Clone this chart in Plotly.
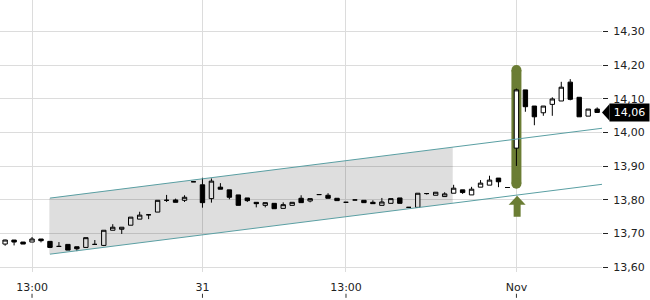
import plotly.graph_objects as go
import numpy as np

# ---- data ----
idx = list(range(67))
open_ = [13.669, 13.681, 13.675, 13.675, 13.684, 13.677, 13.662, 13.668, 13.661, 13.659,
         13.668, 13.665, 13.710, 13.713, 13.725, 13.743, 13.756, 13.764, 13.799, 13.800,
         13.799, 13.854, 13.845, 13.804, 13.838, 13.830, 13.815, 13.806, 13.793, 13.784,
         13.790, 13.775, 13.784, 13.805, 13.797, 13.816, 13.814, 13.805, 13.793, 13.800,
         13.799, 13.793, 13.784, 13.790, 13.806, 13.778, 13.778, 13.819, 13.814, 13.810,
         13.820, 13.830, 13.815, 13.838, 13.844, 13.865, 13.837, 13.954, 14.127, 14.079,
         14.059, 14.084, 14.094, 14.150, 14.105, 14.049, 14.070]
high = [13.682, 13.681, 13.675, 13.690, 13.684, 13.677, 13.675, 13.668, 13.661, 13.688,
        13.681, 13.710, 13.728, 13.719, 13.749, 13.765, 13.756, 13.799, 13.815, 13.804,
        13.814, 13.854, 13.866, 13.864, 13.850, 13.830, 13.815, 13.806, 13.793, 13.792,
        13.790, 13.793, 13.793, 13.814, 13.804, 13.816, 13.820, 13.805, 13.793, 13.800,
        13.799, 13.799, 13.806, 13.804, 13.806, 13.778, 13.820, 13.819, 13.823, 13.823,
        13.845, 13.830, 13.839, 13.859, 13.872, 13.865, 13.837, 14.131, 14.127, 14.079,
        14.079, 14.105, 14.151, 14.159, 14.105, 14.070, 14.075]
low = [13.664, 13.665, 13.669, 13.675, 13.674, 13.657, 13.662, 13.651, 13.648, 13.659,
       13.668, 13.663, 13.710, 13.699, 13.725, 13.743, 13.743, 13.764, 13.794, 13.793,
       13.794, 13.854, 13.777, 13.792, 13.832, 13.802, 13.784, 13.794, 13.778, 13.778,
       13.774, 13.775, 13.784, 13.792, 13.793, 13.816, 13.805, 13.798, 13.793, 13.800,
       13.792, 13.789, 13.784, 13.790, 13.790, 13.778, 13.778, 13.816, 13.814, 13.810,
       13.820, 13.818, 13.815, 13.838, 13.844, 13.838, 13.837, 13.901, 14.062, 14.022,
       14.050, 14.050, 14.094, 14.096, 14.047, 14.049, 14.059]
close = [13.681, 13.675, 13.669, 13.684, 13.679, 13.659, 13.662, 13.651, 13.655, 13.688,
         13.668, 13.710, 13.719, 13.719, 13.749, 13.755, 13.756, 13.799, 13.799, 13.793,
         13.808, 13.854, 13.792, 13.856, 13.832, 13.808, 13.784, 13.798, 13.789, 13.792,
         13.774, 13.786, 13.793, 13.792, 13.804, 13.816, 13.805, 13.798, 13.793, 13.800,
         13.792, 13.789, 13.794, 13.804, 13.790, 13.778, 13.820, 13.819, 13.823, 13.818,
         13.835, 13.822, 13.832, 13.850, 13.859, 13.854, 13.837, 14.127, 14.077, 14.047,
         14.079, 14.100, 14.135, 14.099, 14.047, 14.070, 14.060]

tick_idx = [3, 22, 38, 57]
tick_text = ["13:00", "31", "13:00", "Nov"]
y_ticks = [13.6, 13.7, 13.8, 13.9, 14.0, 14.1, 14.2, 14.3]

# trend channel (start/end index and prices)
chan_x = [5, 67]
chan_upper = [13.8055, 14.0145]
chan_lower = [13.639, 13.848]
fill_x = [4.93, 49.9]

signal_idx = 57
signal_top = 14.186
signal_bottom = 13.848
arrow_base = 13.750

last_price = close[-1]

FONT = "DejaVu Sans"
GREEN = "#6b7d34"
TEAL = "#5a9fa3"
X_RANGE = [-0.57, 66.54]

fig = go.Figure()

# shaded channel area
ux = np.interp(fill_x, chan_x, chan_upper)
lx = np.interp(fill_x, chan_x, chan_lower)
fig.add_trace(go.Scatter(
    x=[fill_x[0], fill_x[1], fill_x[1], fill_x[0]],
    y=[ux[0], ux[1], lx[1], lx[0]],
    fill="toself", fillcolor="rgba(0,0,0,0.13)", line=dict(width=0),
    mode="lines", hoverinfo="skip", showlegend=False))

# channel lines
fig.add_trace(go.Scatter(x=chan_x, y=chan_upper, mode="lines",
                         line=dict(color=TEAL, width=1), showlegend=False, hoverinfo="skip"))
fig.add_trace(go.Scatter(x=chan_x, y=chan_lower, mode="lines",
                         line=dict(color=TEAL, width=1), showlegend=False, hoverinfo="skip"))

fig.add_trace(go.Candlestick(
    x=idx, open=open_, high=high, low=low, close=close,
    increasing=dict(line=dict(color="black", width=1), fillcolor="white"),
    decreasing=dict(line=dict(color="black", width=1), fillcolor="black"),
    whiskerwidth=0, showlegend=False))

shapes = []
# green highlight bar (rounded)
shapes.append(dict(type="rect", xref="x", yref="y", xsizemode="pixel", xanchor=signal_idx,
                   x0=-5, x1=5, y0=signal_bottom, y1=signal_top,
                   fillcolor=GREEN, line=dict(width=0), layer="between"))
for yv in (signal_top, signal_bottom):
    shapes.append(dict(type="circle", xref="x", yref="y", xsizemode="pixel", ysizemode="pixel",
                       xanchor=signal_idx, yanchor=yv, x0=-5, x1=5, y0=-5, y1=5,
                       fillcolor=GREEN, line=dict(width=0), layer="between"))
# green up arrow
shapes.append(dict(type="path", xref="x", yref="y", xsizemode="pixel", ysizemode="pixel",
                   xanchor=signal_idx + 0.08, yanchor=arrow_base,
                   path="M -3.5,0 L 3.5,0 L 3.5,12 L 8.5,12 L 0,21 L -8.5,12 L -3.5,12 Z",
                   fillcolor=GREEN, line=dict(width=0)))
# small x tick marks below labels (paper coords derived from the axis range)
for t in tick_idx:
    px = (t - X_RANGE[0]) / (X_RANGE[1] - X_RANGE[0])
    shapes.append(dict(type="line", xref="paper", yref="paper", x0=px, x1=px, y0=-0.08, y1=-0.095,
                       line=dict(color="#333", width=1)))
# last price tag pointer
shapes.append(dict(type="path", xref="paper", yref="y",
                   path=f"M 1.0,{last_price} L 1.0125,{last_price + 0.025} L 1.0125,{last_price - 0.025} Z",
                   fillcolor="black", line=dict(width=0)))
fig.update_layout(shapes=shapes)

fig.add_annotation(xref="paper", yref="y", x=1.0, y=last_price, xanchor="left", yanchor="middle",
                   xshift=7, text=f"{last_price:.2f}".replace(".", ","), showarrow=False,
                   bgcolor="black", font=dict(family=FONT, size=11, color="white"),
                   width=37, height=15, borderpad=1, align="center")

fig.update_layout(
    width=650, height=300,
    margin=dict(l=0, r=48, t=0, b=28),
    paper_bgcolor="white", plot_bgcolor="white",
    separators=",.",
    font=dict(family=FONT, size=11, color="#222"),
    xaxis=dict(range=X_RANGE, tickmode="array", tickvals=tick_idx, ticktext=tick_text,
               showgrid=True, gridcolor="#dcdcdc", gridwidth=1, zeroline=False,
               showline=False, ticks="", rangeslider=dict(visible=False),
               tickfont=dict(family=FONT, size=11, color="#222"), ticklabelstandoff=7),
    yaxis=dict(range=[13.586, 14.394], side="right", tickmode="array", tickvals=y_ticks,
               tickformat=".2f", showgrid=True, gridcolor="#dcdcdc", gridwidth=1,
               zeroline=False, showline=False, ticks="outside", ticklen=5, tickcolor="#222",
               tickfont=dict(family=FONT, size=11, color="#222"), ticklabelstandoff=3),
    showlegend=False,
)

fig.write_html("out.html")
